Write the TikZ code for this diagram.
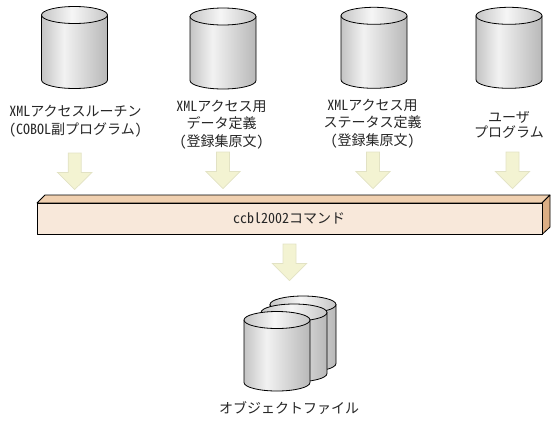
\documentclass[tikz,border=0pt]{standalone}
\usepackage{fontspec}
\setmainfont{Noto Sans CJK JP}[RawFeature={+hwid}]
\definecolor{arrowfill}{HTML}{F3F3D2}
\definecolor{arrowedge}{HTML}{E2E2C4}
\definecolor{boxfront}{HTML}{F8E8DA}
\definecolor{boxtop}{HTML}{F0D0B0}
\definecolor{boxside}{HTML}{DCAE84}
\definecolor{cylA}{HTML}{C4C4C4}
\definecolor{cylB}{HTML}{F2F2F2}
\definecolor{cylC}{HTML}{B8B8B8}
\definecolor{capA}{HTML}{C6C6C6}
\definecolor{capB}{HTML}{F6F6F6}
\pgfdeclarehorizontalshading{cylbody}{100bp}{color(0bp)=(cylA);color(25bp)=(cylA);color(42bp)=(cylB);color(75bp)=(cylC);color(100bp)=(cylC)}
\pgfdeclarehorizontalshading{cylcap}{100bp}{color(0bp)=(capA);color(25bp)=(capA);color(48bp)=(capB);color(75bp)=(capA);color(100bp)=(capA)}
\tikzset{
  x=1pt,y=1pt,
  outline/.style={draw=black,line width=0.8pt,line join=round},
  label/.style={font=\fontsize{14}{17.5}\selectfont,align=center,inner sep=0pt,text=black!85},
  pics/dbcyl/.style={code={
    \path[outline,shading=cylbody] (-33,0) -- (-33,-#1) arc[start angle=180,end angle=360,x radius=33,y radius=8.5] -- (33,0) -- cycle;
    \path[outline,shading=cylcap] (0,0) ellipse[x radius=33,y radius=8.5];
  }},
  pics/flowarrow/.style={code={
    \path[fill=arrowfill,draw=arrowedge,line width=0.7pt,line join=miter] (-6.5,0) -- (-6.5,-19.5) -- (-17.2,-19.5) -- (0,-36.5) -- (17.2,-19.5) -- (6.5,-19.5) -- (6.5,0) -- cycle;
  }},
}
\begin{document}
\begin{tikzpicture}
\useasboundingbox (0,0) rectangle (553,-421);
% source cylinders
\pic (c1) at (74.5,-15) {dbcyl=65};
\pic (c2) at (223,-16.5) {dbcyl=64};
\pic (c3) at (374,-15.8) {dbcyl=64};
\pic (c4) at (509,-15.8) {dbcyl=64};
% labels
\node[label] (l1) at (75.5,-121) {XMLアクセスルーチン\\(COBOL副プログラム)};
\node[label] (l2) at (221.5,-124.5) {XMLアクセス用\\データ定義\\(登録集原文)};
\node[label] (l3) at (372.5,-123.5) {XMLアクセス用\\ステータス定義\\(登録集原文)};
\node[label,font=\fontsize{14}{15}\selectfont] (l4) at (509,-124.5) {ユーザ\\プログラム};
% arrows into the command bar
\pic (a1) at (74.7,-153) {flowarrow};
\pic (a2) at (223,-152) {flowarrow};
\pic (a3) at (373,-152) {flowarrow};
\pic (a4) at (512.5,-152) {flowarrow};
% command bar
\path[outline,fill=boxtop] (37,-203) -- (45,-195) -- (550,-195) -- (542,-203) -- cycle;
\path[outline,fill=boxside] (542,-203) -- (550,-195) -- (550,-227) -- (542,-234.5) -- cycle;
\path[outline,fill=boxfront] (37,-203) rectangle (542,-234.5);
\node[label] (cmd) at (289,-218) {ccbl2002コマンド};
\pic (a5) at (289.5,-244) {flowarrow};
% object file stack
\pic (s3) at (303,-304.5) {dbcyl=59};
\pic (s2) at (294,-312.5) {dbcyl=61};
\pic (s1) at (277,-320) {dbcyl=62.5};
\node[label] (l5) at (289,-408.5) {オブジェクトファイル};
\end{tikzpicture}
\end{document}
